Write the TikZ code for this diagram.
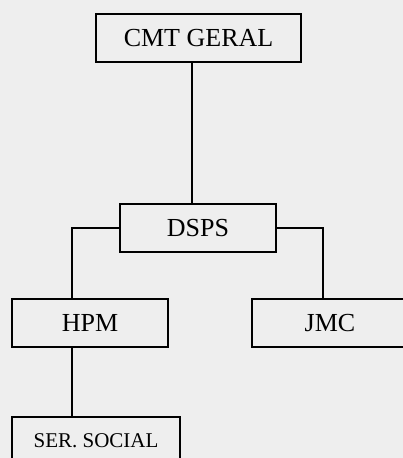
\documentclass[tikz,border=0pt]{standalone}
\usepackage{fontspec}
\setmainfont{Liberation Serif}
\definecolor{paper}{RGB}{238,238,238}

\begin{document}
\begin{tikzpicture}[x=1pt, y=-1pt,
		unit/.style = {draw, fill=paper, line width=1.2pt, minimum height=48pt, inner sep=0pt,
			font=\fontsize{26}{30}\selectfont}]
			\fill[paper] (0,0) rectangle (403,458);
			\useasboundingbox (0,0) rectangle (403,458);
			
			\coordinate (trunk) at (192,0);
			\coordinate (lbranch) at (72,0);
			\coordinate (rbranch) at (323,0);
			
			\node[unit, minimum width=205pt] (cmt) at (198.5,38) {CMT GERAL};
			\node[unit, minimum width=156pt] (dsps) at (198,228) {DSPS};
			\node[unit, minimum width=156pt] (hpm) at (90,323) {HPM};
			\node[unit, minimum width=156pt] (jmc) at (330,323) {JMC};
			\node[unit, minimum width=168pt, font=\fontsize{21}{25}\selectfont] (ser) at (96,441) {SER. SOCIAL};
			
			\begin{scope}[line width=1.2pt]
				\draw (trunk |- cmt.south) -- (trunk |- dsps.north);
				\draw (dsps.west) -| (lbranch |- hpm.north);
				\draw (dsps.east) -| (rbranch |- jmc.north);
				\draw (lbranch |- hpm.south) -- (lbranch |- ser.north);
			\end{scope}
		\end{tikzpicture}
\end{document}
